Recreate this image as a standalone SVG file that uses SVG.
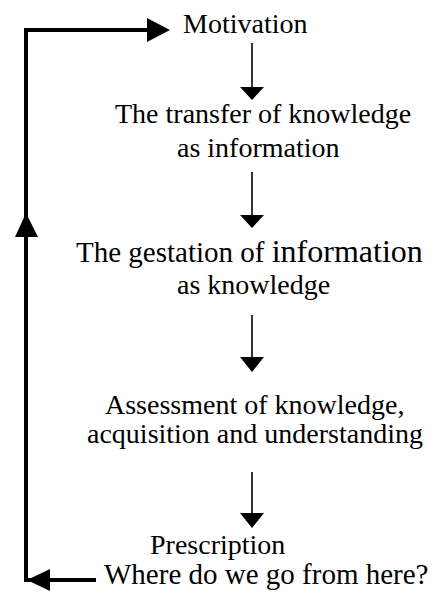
<svg xmlns="http://www.w3.org/2000/svg" width="444" height="592" viewBox="0 0 444 592">
<style>
.t{font-family:'Liberation Serif','Times New Roman',Tinos,'DejaVu Serif',serif;font-size:28px;fill:#000}
.thin{stroke:#000;stroke-width:1.6;fill:none}
.thick{stroke:#000;stroke-width:4;fill:none}
.head{fill:#000}
</style>
<rect width="444" height="592" fill="#fff"/>
<g id="motivation"><text class="t" x="183" y="33">Motivation</text></g>
<g id="transfer"><text class="t" x="115" y="123">The transfer of knowledge</text><text class="t" x="177" y="157">as information</text></g>
<g id="gestation"><text class="t" x="76" y="262" style="font-size:29px">The gestation of <tspan style="font-size:32px">information</tspan></text><text class="t" x="177" y="294">as knowledge</text></g>
<g id="assessment"><text class="t" x="105" y="414">Assessment of knowledge,</text><text class="t" x="87" y="443">acquisition and understanding</text></g>
<g id="prescription"><text class="t" x="150" y="554">Prescription</text><text class="t" x="104" y="584" style="font-size:29px">Where do we go from here?</text></g>
<g id="connectors">
<line class="thin" x1="252" y1="43" x2="252" y2="88"/><polygon class="head" points="240,87 264,87 252,100"/>
<line class="thin" x1="252" y1="172" x2="252" y2="216"/><polygon class="head" points="240,215 264,215 252,228"/>
<line class="thin" x1="252" y1="315" x2="252" y2="358"/><polygon class="head" points="240,357 264,357 252,372"/>
<line class="thin" x1="252" y1="472" x2="252" y2="514"/><polygon class="head" points="240,513 264,513 252,528"/>
<polyline class="thick" points="96,580 26,580 26,30 148,30"/>
<polygon class="head" points="147,18 147,42 170,30"/>
<polygon class="head" points="15,237 38,237 26,213"/>
<polygon class="head" points="50,569 50,591 27,580"/>
</g>
</svg>
